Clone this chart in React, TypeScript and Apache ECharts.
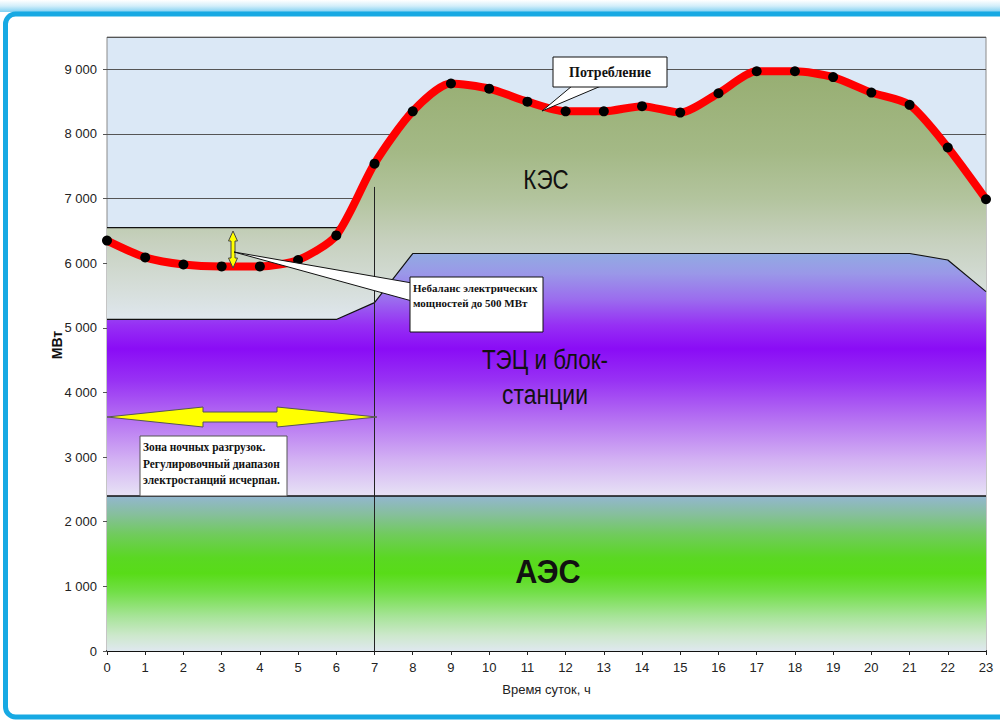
import React, { useEffect, useRef } from 'react';
import * as echarts from 'echarts';

// ---------- data ----------
const hours = [0, 1, 2, 3, 4, 5, 6, 7, 8, 9, 10, 11, 12, 13, 14, 15, 16, 17, 18, 19, 20, 21, 22, 23];
const consumption = [6350, 6090, 5980, 5950, 5950, 6050, 6430, 7540, 8350, 8780, 8700, 8500, 8350, 8350, 8430, 8330, 8630, 8970, 8970, 8880, 8640, 8450, 7790, 6990];
const kesTop = [6550, 6550, 6550, 6550, 6550, 6550, 6550, 7540, 8350, 8780, 8700, 8500, 8350, 8350, 8430, 8330, 8630, 8970, 8970, 8880, 8640, 8450, 7790, 6990];
const tecTop = [5130, 5130, 5130, 5130, 5130, 5130, 5130, 5390, 6150, 6150, 6150, 6150, 6150, 6150, 6150, 6150, 6150, 6150, 6150, 6150, 6150, 6150, 6050, 5560];
const aesTop = [2400, 2400, 2400, 2400, 2400, 2400, 2400, 2400, 2400, 2400, 2400, 2400, 2400, 2400, 2400, 2400, 2400, 2400, 2400, 2400, 2400, 2400, 2400, 2400];
const dividerLine = [[7, 0], [7, 7180]];

const SANS = '"Liberation Sans", Arial, sans-serif';
const SERIF = '"Liberation Serif", "Times New Roman", serif';

const pairs = (vals: number[]) => hours.map((h, i) => [h, vals[i]]);

const grad = (stops: [number, string][]) =>
  new echarts.graphic.LinearGradient(0, 0, 0, 1, stops.map(([offset, color]) => ({ offset, color })));

const fmt = (v: number) => (v === 0 ? '0' : String(v).replace(/\B(?=(\d{3})+(?!\d))/g, ' '));

const txt = (text: string, x: number, y: number, font: string, opts: any = {}) => ({
  type: 'text',
  x,
  y,
  z: 120,
  scaleX: opts.scaleX ?? 1,
  rotation: opts.rotation ?? 0,
  style: {
    text,
    font,
    fill: opts.fill ?? '#111',
    textAlign: opts.align ?? 'center',
    textVerticalAlign: 'middle',
    align: opts.align ?? 'center',
    verticalAlign: 'middle',
  },
});

export default function App() {
  const ref = useRef<HTMLDivElement>(null);

  useEffect(() => {
    document.body.style.margin = '0';
    if (!ref.current) return;
    const chart = echarts.init(ref.current, undefined, { renderer: 'svg' });

    const option: any = {
      animation: false,
      backgroundColor: '#ffffff',
      grid: {
        left: 107,
        right: 14,
        top: 37,
        bottom: 71,
        show: true,
        backgroundColor: '#dbe8f6',
        borderColor: '#8a8a8a',
        borderWidth: 1,
      },
      xAxis: {
        type: 'value',
        min: 0,
        max: 23,
        interval: 1,
        name: 'Время суток, ч',
        nameLocation: 'middle',
        nameGap: 32,
        nameTextStyle: { fontSize: 13, color: '#222', fontFamily: SANS },
        axisLine: { show: true, lineStyle: { color: '#111', width: 2 } },
        axisTick: { show: true, length: 4, lineStyle: { color: '#222' } },
        axisLabel: { fontSize: 13, color: '#222', fontFamily: SANS, margin: 10 },
        splitLine: { show: false },
      },
      yAxis: {
        type: 'value',
        min: 0,
        max: 9500,
        interval: 1000,
        axisLine: { show: false },
        axisTick: { show: true, length: 4, lineStyle: { color: '#555' } },
        axisLabel: { fontSize: 13, color: '#222', fontFamily: SANS, margin: 10, showMaxLabel: false, formatter: fmt },
        splitLine: { show: true, lineStyle: { color: '#555', width: 1 } },
      },
      series: [
        {
          name: 'КЭС',
          type: 'line',
          data: pairs(kesTop),
          smooth: 0.25,
          symbol: 'none',
          showSymbol: false,
          lineStyle: { color: '#111', width: 1.2 },
          areaStyle: {
            opacity: 1,
            color: grad([
              [0, '#97ae72'],
              [0.14, '#a4b986'],
              [0.22, '#b3c49e'],
              [0.29, '#c6d0bd'],
              [0.37, '#d5ddd8'],
              [0.43, '#dfe7ee'],
              [1, '#dfe7ee'],
            ]),
          },
          silent: true,
          z: 2,
        },
        {
          name: 'ТЭЦ и блок-станции',
          type: 'line',
          data: pairs(tecTop),
          symbol: 'none',
          showSymbol: false,
          lineStyle: { color: '#111', width: 1.2 },
          areaStyle: {
            opacity: 1,
            color: grad([
              [0, '#92aae2'],
              [0.05, '#9a98e8'],
              [0.116, '#9b6cee'],
              [0.18, '#9630f4'],
              [0.24, '#8a0cf6'],
              [0.32, '#9832f4'],
              [0.42, '#b673f2'],
              [0.52, '#d3b2f3'],
              [0.605, '#e6e0f5'],
              [1, '#e6e0f5'],
            ]),
          },
          silent: true,
          z: 3,
        },
        {
          name: 'АЭС',
          type: 'line',
          data: pairs(aesTop),
          symbol: 'none',
          showSymbol: false,
          lineStyle: { color: '#111', width: 1.5 },
          areaStyle: {
            opacity: 1,
            color: grad([
              [0, '#93b6d0'],
              [0.12, '#86bf9c'],
              [0.25, '#70cb5c'],
              [0.4, '#5ad822'],
              [0.5, '#58dc18'],
              [0.62, '#72df48'],
              [0.78, '#a8e49a'],
              [0.9, '#cde8cc'],
              [1, '#dfe8ef'],
            ]),
          },
          silent: true,
          z: 4,
        },
        {
          name: 'Потребление',
          type: 'line',
          data: pairs(consumption),
          smooth: 0.25,
          symbol: 'circle',
          symbolSize: 10,
          showSymbol: true,
          lineStyle: { color: '#ff0000', width: 8 },
          itemStyle: { color: '#000' },
          emphasis: { disabled: true },
          silent: true,
          z: 6,
          markLine: {
            silent: true,
            symbol: ['none', 'none'],
            label: { show: false },
            lineStyle: { color: '#222', width: 1, type: 'solid' },
            data: [[{ coord: dividerLine[0] }, { coord: dividerLine[1] }]],
            z: 5,
          },
        },
      ],
      graphic: [
        // frame
        {
          type: 'rect',
          z: 100,
          shape: { x: 0, y: 0, width: 1000, height: 12 },
          style: { fill: grad([[0, '#ffffff'], [0.5, '#d2eefa'], [1, '#7fd0f2']]) },
          silent: true,
        },
        {
          type: 'rect',
          z: 101,
          shape: { x: 5.5, y: 14, width: 1010, height: 703, r: 10 },
          style: { fill: 'none', stroke: '#17a9e3', lineWidth: 5 },
          silent: true,
        },
        // y axis title
        txt('МВт', 57, 345, `bold 14px ${SANS}`, { rotation: Math.PI / 2 }),
        // big yellow horizontal double arrow
        {
          type: 'polygon',
          z: 110,
          shape: {
            points: [
              [107, 417], [203, 407], [203, 412], [277, 412], [277, 407],
              [377, 417], [277, 427], [277, 422], [203, 422], [203, 427],
            ],
          },
          style: { fill: '#ffff00', stroke: '#555', lineWidth: 1 },
        },
        // small vertical double arrow
        {
          type: 'polygon',
          z: 110,
          shape: {
            points: [
              [233, 231], [237.5, 241], [235, 241], [235, 258], [237.5, 258],
              [233, 268], [228.5, 258], [231, 258], [231, 241], [228.5, 241],
            ],
          },
          style: { fill: '#ffff00', stroke: '#444', lineWidth: 1 },
        },
        // imbalance callout
        {
          type: 'polygon',
          z: 111,
          shape: { points: [[234, 252], [412, 283], [412, 301]] },
          style: { fill: '#ffffff', stroke: '#111', lineWidth: 1 },
        },
        {
          type: 'rect',
          z: 112,
          shape: { x: 410, y: 277, width: 133, height: 55 },
          style: { fill: '#ffffff', stroke: '#111', lineWidth: 1 },
        },
        txt('Небаланс электрических', 413, 288, `bold 11px ${SERIF}`, { align: 'left' }),
        txt('мощностей до 500 МВт', 413, 303, `bold 11px ${SERIF}`, { align: 'left' }),
        // consumption callout
        {
          type: 'polygon',
          z: 111,
          shape: { points: [[542, 111], [572, 86], [601, 86]] },
          style: { fill: '#ffffff', stroke: '#111', lineWidth: 1 },
        },
        {
          type: 'rect',
          z: 112,
          shape: { x: 553, y: 57, width: 114, height: 30 },
          style: { fill: '#ffffff', stroke: '#111', lineWidth: 1 },
        },
        txt('Потребление', 610, 72, `bold 14px ${SERIF}`),
        // night zone box
        {
          type: 'rect',
          z: 112,
          shape: { x: 140, y: 436, width: 147, height: 60 },
          style: { fill: '#ffffff', stroke: '#555', lineWidth: 1 },
        },
        txt('Зона ночных разгрузок.', 143, 447, `bold 12px ${SERIF}`, { align: 'left', scaleX: 0.95 }),
        txt('Регулировочный диапазон', 143, 464, `bold 12px ${SERIF}`, { align: 'left', scaleX: 0.95 }),
        txt('электростанций исчерпан.', 143, 480, `bold 12px ${SERIF}`, { align: 'left', scaleX: 0.95 }),
        // area labels
        txt('КЭС', 546, 180, `27px ${SANS}`, { scaleX: 0.83 }),
        txt('ТЭЦ и блок-', 545, 360, `27px ${SANS}`, { scaleX: 0.83 }),
        txt('станции', 545, 394, `27px ${SANS}`, { scaleX: 0.85 }),
        txt('АЭС', 548, 572, `bold 33px ${SANS}`, { scaleX: 0.93 }),
      ],
    };

    chart.setOption(option);
    return () => chart.dispose();
  }, []);

  return <div ref={ref} style={{ width: 1000, height: 722 }} />;
}
